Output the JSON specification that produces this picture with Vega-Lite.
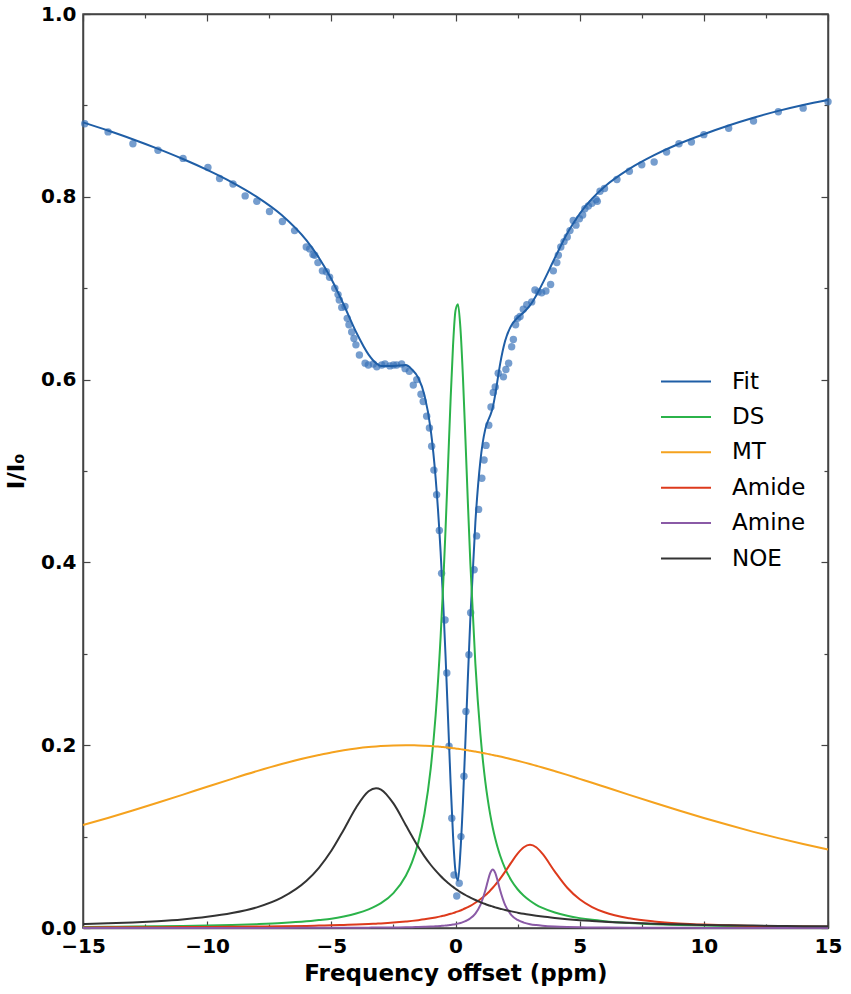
{
  "$schema": "https://vega.github.io/schema/vega-lite/v6.json",
  "width": 745,
  "height": 914,
  "autosize": "none",
  "padding": {"left": 83, "top": 14, "right": 23, "bottom": 66},
  "background": "white",
  "config": {
    "font": "DejaVu Sans",
    "view": {"stroke": "#444444", "strokeWidth": 1.5},
    "axis": {
      "grid": false,
      "labelFont": "DejaVu Sans",
      "labelFontWeight": "bold",
      "labelFontSize": 20,
      "labelColor": "black",
      "labelFlush": false,
      "labelOverlap": false,
      "titleFont": "DejaVu Sans",
      "titleFontWeight": "bold",
      "titleFontSize": 23,
      "titleColor": "black",
      "domainColor": "#444444",
      "domainWidth": 1.5,
      "tickColor": "#444444",
      "tickWidth": 1.2
    }
  },
  "datasets": {
    "curves": [
      {"offset": -15, "Fit": 0.8814, "DS": 0.0012, "MT": 0.1126, "Amide": 0.0006, "Amine": 0.0000, "NOE": 0.0043},
      {"offset": -14, "Fit": 0.8725, "DS": 0.0014, "MT": 0.1203, "Amide": 0.0007, "Amine": 0.0000, "NOE": 0.0051},
      {"offset": -13, "Fit": 0.8630, "DS": 0.0016, "MT": 0.1285, "Amide": 0.0007, "Amine": 0.0000, "NOE": 0.0061},
      {"offset": -12, "Fit": 0.8527, "DS": 0.0019, "MT": 0.1370, "Amide": 0.0008, "Amine": 0.0001, "NOE": 0.0075},
      {"offset": -11, "Fit": 0.8416, "DS": 0.0022, "MT": 0.1457, "Amide": 0.0010, "Amine": 0.0001, "NOE": 0.0094},
      {"offset": -10, "Fit": 0.8294, "DS": 0.0027, "MT": 0.1545, "Amide": 0.0011, "Amine": 0.0001, "NOE": 0.0122},
      {"offset": -9, "Fit": 0.8158, "DS": 0.0033, "MT": 0.1632, "Amide": 0.0013, "Amine": 0.0001, "NOE": 0.0163},
      {"offset": -8, "Fit": 0.7999, "DS": 0.0042, "MT": 0.1716, "Amide": 0.0016, "Amine": 0.0001, "NOE": 0.0226},
      {"offset": -7, "Fit": 0.7800, "DS": 0.0054, "MT": 0.1794, "Amide": 0.0019, "Amine": 0.0001, "NOE": 0.0332},
      {"offset": -6, "Fit": 0.7522, "DS": 0.0073, "MT": 0.1863, "Amide": 0.0023, "Amine": 0.0002, "NOE": 0.0517},
      {"offset": -5.5, "Fit": 0.7333, "DS": 0.0087, "MT": 0.1893, "Amide": 0.0026, "Amine": 0.0002, "NOE": 0.0659},
      {"offset": -5, "Fit": 0.7100, "DS": 0.0102, "MT": 0.1921, "Amide": 0.0029, "Amine": 0.0002, "NOE": 0.0845},
      {"offset": -4.5, "Fit": 0.6819, "DS": 0.0126, "MT": 0.1944, "Amide": 0.0033, "Amine": 0.0003, "NOE": 0.1076},
      {"offset": -4, "Fit": 0.6519, "DS": 0.0158, "MT": 0.1964, "Amide": 0.0037, "Amine": 0.0003, "NOE": 0.1319},
      {"offset": -3.5, "Fit": 0.6274, "DS": 0.0203, "MT": 0.1980, "Amide": 0.0043, "Amine": 0.0004, "NOE": 0.1496},
      {"offset": -3.2, "Fit": 0.6180, "DS": 0.0241, "MT": 0.1987, "Amide": 0.0047, "Amine": 0.0005, "NOE": 0.1530},
      {"offset": -3, "Fit": 0.6150, "DS": 0.0272, "MT": 0.1991, "Amide": 0.0050, "Amine": 0.0005, "NOE": 0.1515},
      {"offset": -2.5, "Fit": 0.6150, "DS": 0.0382, "MT": 0.1998, "Amide": 0.0059, "Amine": 0.0006, "NOE": 0.1363},
      {"offset": -2, "Fit": 0.6160, "DS": 0.0572, "MT": 0.2000, "Amide": 0.0071, "Amine": 0.0008, "NOE": 0.1125},
      {"offset": -1.75, "Fit": 0.6110, "DS": 0.0720, "MT": 0.1999, "Amide": 0.0078, "Amine": 0.0009, "NOE": 0.1004},
      {"offset": -1.5, "Fit": 0.6020, "DS": 0.0936, "MT": 0.1998, "Amide": 0.0086, "Amine": 0.0011, "NOE": 0.0888},
      {"offset": -1.25, "Fit": 0.5830, "DS": 0.1253, "MT": 0.1995, "Amide": 0.0095, "Amine": 0.0013, "NOE": 0.0784},
      {"offset": -1, "Fit": 0.5455, "DS": 0.1740, "MT": 0.1991, "Amide": 0.0106, "Amine": 0.0016, "NOE": 0.0692},
      {"offset": -0.8, "Fit": 0.4923, "DS": 0.2328, "MT": 0.1987, "Amide": 0.0116, "Amine": 0.0019, "NOE": 0.0627},
      {"offset": -0.6, "Fit": 0.4117, "DS": 0.3183, "MT": 0.1982, "Amide": 0.0127, "Amine": 0.0022, "NOE": 0.0569},
      {"offset": -0.5, "Fit": 0.3586, "DS": 0.3734, "MT": 0.1980, "Amide": 0.0133, "Amine": 0.0025, "NOE": 0.0542},
      {"offset": -0.4, "Fit": 0.2970, "DS": 0.4369, "MT": 0.1977, "Amide": 0.0140, "Amine": 0.0027, "NOE": 0.0517},
      {"offset": -0.3, "Fit": 0.2291, "DS": 0.5065, "MT": 0.1974, "Amide": 0.0147, "Amine": 0.0030, "NOE": 0.0493},
      {"offset": -0.2, "Fit": 0.1606, "DS": 0.5764, "MT": 0.1971, "Amide": 0.0155, "Amine": 0.0034, "NOE": 0.0471},
      {"offset": -0.1, "Fit": 0.1013, "DS": 0.6369, "MT": 0.1967, "Amide": 0.0163, "Amine": 0.0038, "NOE": 0.0450},
      {"offset": 0, "Fit": 0.0620, "DS": 0.6755, "MT": 0.1964, "Amide": 0.0172, "Amine": 0.0042, "NOE": 0.0430},
      {"offset": 0.1, "Fit": 0.0520, "DS": 0.6824, "MT": 0.1960, "Amide": 0.0182, "Amine": 0.0048, "NOE": 0.0411},
      {"offset": 0.2, "Fit": 0.0846, "DS": 0.6556, "MT": 0.1957, "Amide": 0.0192, "Amine": 0.0055, "NOE": 0.0393},
      {"offset": 0.3, "Fit": 0.1379, "DS": 0.6024, "MT": 0.1953, "Amide": 0.0204, "Amine": 0.0064, "NOE": 0.0377},
      {"offset": 0.4, "Fit": 0.2051, "DS": 0.5349, "MT": 0.1948, "Amide": 0.0216, "Amine": 0.0075, "NOE": 0.0361},
      {"offset": 0.5, "Fit": 0.2750, "DS": 0.4643, "MT": 0.1944, "Amide": 0.0229, "Amine": 0.0088, "NOE": 0.0346},
      {"offset": 0.6, "Fit": 0.3401, "DS": 0.3979, "MT": 0.1940, "Amide": 0.0243, "Amine": 0.0106, "NOE": 0.0332},
      {"offset": 0.8, "Fit": 0.4437, "DS": 0.2893, "MT": 0.1930, "Amide": 0.0276, "Amine": 0.0158, "NOE": 0.0306},
      {"offset": 1.0, "Fit": 0.5105, "DS": 0.2128, "MT": 0.1921, "Amide": 0.0314, "Amine": 0.0250, "NOE": 0.0283},
      {"offset": 1.2, "Fit": 0.5458, "DS": 0.1602, "MT": 0.1910, "Amide": 0.0358, "Amine": 0.0410, "NOE": 0.0262},
      {"offset": 1.3, "Fit": 0.5544, "DS": 0.1404, "MT": 0.1905, "Amide": 0.0383, "Amine": 0.0512, "NOE": 0.0252},
      {"offset": 1.4, "Fit": 0.5608, "DS": 0.1237, "MT": 0.1899, "Amide": 0.0410, "Amine": 0.0602, "NOE": 0.0243},
      {"offset": 1.5, "Fit": 0.5695, "DS": 0.1097, "MT": 0.1893, "Amide": 0.0440, "Amine": 0.0640, "NOE": 0.0235},
      {"offset": 1.6, "Fit": 0.5835, "DS": 0.0978, "MT": 0.1888, "Amide": 0.0471, "Amine": 0.0602, "NOE": 0.0226},
      {"offset": 1.7, "Fit": 0.6007, "DS": 0.0877, "MT": 0.1882, "Amide": 0.0504, "Amine": 0.0512, "NOE": 0.0218},
      {"offset": 1.8, "Fit": 0.6174, "DS": 0.0790, "MT": 0.1876, "Amide": 0.0540, "Amine": 0.0410, "NOE": 0.0211},
      {"offset": 2.0, "Fit": 0.6424, "DS": 0.0649, "MT": 0.1863, "Amide": 0.0617, "Amine": 0.0250, "NOE": 0.0197},
      {"offset": 2.25, "Fit": 0.6593, "DS": 0.0520, "MT": 0.1847, "Amide": 0.0718, "Amine": 0.0142, "NOE": 0.0182},
      {"offset": 2.5, "Fit": 0.6677, "DS": 0.0424, "MT": 0.1830, "Amide": 0.0813, "Amine": 0.0088, "NOE": 0.0168},
      {"offset": 2.75, "Fit": 0.6737, "DS": 0.0353, "MT": 0.1812, "Amide": 0.0884, "Amine": 0.0059, "NOE": 0.0155},
      {"offset": 3.0, "Fit": 0.6812, "DS": 0.0298, "MT": 0.1794, "Amide": 0.0910, "Amine": 0.0042, "NOE": 0.0144},
      {"offset": 3.25, "Fit": 0.6921, "DS": 0.0254, "MT": 0.1775, "Amide": 0.0884, "Amine": 0.0032, "NOE": 0.0134},
      {"offset": 3.5, "Fit": 0.7050, "DS": 0.0220, "MT": 0.1756, "Amide": 0.0813, "Amine": 0.0025, "NOE": 0.0125},
      {"offset": 4, "Fit": 0.7330, "DS": 0.0169, "MT": 0.1716, "Amide": 0.0617, "Amine": 0.0016, "NOE": 0.0110},
      {"offset": 4.5, "Fit": 0.7600, "DS": 0.0134, "MT": 0.1675, "Amide": 0.0440, "Amine": 0.0011, "NOE": 0.0097},
      {"offset": 5, "Fit": 0.7815, "DS": 0.0108, "MT": 0.1632, "Amide": 0.0314, "Amine": 0.0008, "NOE": 0.0086},
      {"offset": 5.5, "Fit": 0.7980, "DS": 0.0089, "MT": 0.1589, "Amide": 0.0229, "Amine": 0.0006, "NOE": 0.0077},
      {"offset": 6, "Fit": 0.8110, "DS": 0.0075, "MT": 0.1545, "Amide": 0.0172, "Amine": 0.0005, "NOE": 0.0069},
      {"offset": 7, "Fit": 0.8305, "DS": 0.0055, "MT": 0.1457, "Amide": 0.0106, "Amine": 0.0003, "NOE": 0.0057},
      {"offset": 8, "Fit": 0.8455, "DS": 0.0042, "MT": 0.1370, "Amide": 0.0071, "Amine": 0.0002, "NOE": 0.0047},
      {"offset": 9, "Fit": 0.8580, "DS": 0.0033, "MT": 0.1285, "Amide": 0.0050, "Amine": 0.0002, "NOE": 0.0040},
      {"offset": 10, "Fit": 0.8685, "DS": 0.0027, "MT": 0.1203, "Amide": 0.0037, "Amine": 0.0001, "NOE": 0.0034},
      {"offset": 11, "Fit": 0.8780, "DS": 0.0022, "MT": 0.1126, "Amide": 0.0029, "Amine": 0.0001, "NOE": 0.0030},
      {"offset": 12, "Fit": 0.8865, "DS": 0.0019, "MT": 0.1052, "Amide": 0.0023, "Amine": 0.0001, "NOE": 0.0026},
      {"offset": 13, "Fit": 0.8940, "DS": 0.0016, "MT": 0.0983, "Amide": 0.0019, "Amine": 0.0001, "NOE": 0.0023},
      {"offset": 14, "Fit": 0.9005, "DS": 0.0014, "MT": 0.0919, "Amide": 0.0016, "Amine": 0.0001, "NOE": 0.0020},
      {"offset": 15, "Fit": 0.9060, "DS": 0.0012, "MT": 0.0859, "Amide": 0.0013, "Amine": 0.0001, "NOE": 0.0018}
    ],
    "points": [
      {"offset": -14.93, "ratio": 0.880}, {"offset": -13.99, "ratio": 0.871}, {"offset": -12.99, "ratio": 0.858},
      {"offset": -11.98, "ratio": 0.851}, {"offset": -10.97, "ratio": 0.842}, {"offset": -9.97, "ratio": 0.832},
      {"offset": -9.5, "ratio": 0.820}, {"offset": -8.96, "ratio": 0.814}, {"offset": -8.47, "ratio": 0.801},
      {"offset": -8.0, "ratio": 0.795}, {"offset": -7.49, "ratio": 0.784}, {"offset": -6.97, "ratio": 0.773},
      {"offset": -6.48, "ratio": 0.763}, {"offset": -6.01, "ratio": 0.745}, {"offset": -5.87, "ratio": 0.743},
      {"offset": -5.74, "ratio": 0.737}, {"offset": -5.67, "ratio": 0.736}, {"offset": -5.54, "ratio": 0.728},
      {"offset": -5.36, "ratio": 0.719}, {"offset": -5.2, "ratio": 0.718}, {"offset": -5.07, "ratio": 0.712},
      {"offset": -4.86, "ratio": 0.700}, {"offset": -4.73, "ratio": 0.693}, {"offset": -4.68, "ratio": 0.687},
      {"offset": -4.58, "ratio": 0.679}, {"offset": -4.45, "ratio": 0.680}, {"offset": -4.36, "ratio": 0.667},
      {"offset": -4.29, "ratio": 0.660}, {"offset": -4.18, "ratio": 0.652}, {"offset": -4.09, "ratio": 0.645},
      {"offset": -4.01, "ratio": 0.638}, {"offset": -3.87, "ratio": 0.627}, {"offset": -3.64, "ratio": 0.618},
      {"offset": -3.51, "ratio": 0.616}, {"offset": -3.31, "ratio": 0.617}, {"offset": -3.17, "ratio": 0.614},
      {"offset": -2.97, "ratio": 0.616}, {"offset": -2.84, "ratio": 0.617}, {"offset": -2.64, "ratio": 0.615},
      {"offset": -2.5, "ratio": 0.616}, {"offset": -2.37, "ratio": 0.616}, {"offset": -2.17, "ratio": 0.617},
      {"offset": -2.03, "ratio": 0.612}, {"offset": -1.86, "ratio": 0.609}, {"offset": -1.7, "ratio": 0.594},
      {"offset": -1.56, "ratio": 0.600}, {"offset": -1.39, "ratio": 0.584}, {"offset": -1.3, "ratio": 0.576},
      {"offset": -1.16, "ratio": 0.560}, {"offset": -1.05, "ratio": 0.547}, {"offset": -0.96, "ratio": 0.527},
      {"offset": -0.87, "ratio": 0.501}, {"offset": -0.76, "ratio": 0.474}, {"offset": -0.65, "ratio": 0.435},
      {"offset": -0.56, "ratio": 0.388}, {"offset": -0.42, "ratio": 0.337}, {"offset": -0.35, "ratio": 0.279},
      {"offset": -0.26, "ratio": 0.199}, {"offset": -0.15, "ratio": 0.120}, {"offset": -0.06, "ratio": 0.058},
      {"offset": 0.05, "ratio": 0.035}, {"offset": 0.15, "ratio": 0.049}, {"offset": 0.22, "ratio": 0.100},
      {"offset": 0.34, "ratio": 0.166}, {"offset": 0.42, "ratio": 0.237}, {"offset": 0.54, "ratio": 0.299},
      {"offset": 0.61, "ratio": 0.345}, {"offset": 0.75, "ratio": 0.392}, {"offset": 0.85, "ratio": 0.429},
      {"offset": 0.93, "ratio": 0.458}, {"offset": 1.06, "ratio": 0.492}, {"offset": 1.15, "ratio": 0.512},
      {"offset": 1.23, "ratio": 0.528}, {"offset": 1.34, "ratio": 0.550}, {"offset": 1.43, "ratio": 0.570},
      {"offset": 1.52, "ratio": 0.586}, {"offset": 1.6, "ratio": 0.592}, {"offset": 1.72, "ratio": 0.607},
      {"offset": 1.93, "ratio": 0.603}, {"offset": 2.03, "ratio": 0.611}, {"offset": 2.14, "ratio": 0.618},
      {"offset": 2.26, "ratio": 0.636}, {"offset": 2.33, "ratio": 0.644}, {"offset": 2.42, "ratio": 0.660},
      {"offset": 2.5, "ratio": 0.667}, {"offset": 2.6, "ratio": 0.669}, {"offset": 2.73, "ratio": 0.677},
      {"offset": 2.87, "ratio": 0.682}, {"offset": 3.07, "ratio": 0.685}, {"offset": 3.2, "ratio": 0.698},
      {"offset": 3.33, "ratio": 0.696}, {"offset": 3.47, "ratio": 0.695}, {"offset": 3.64, "ratio": 0.697},
      {"offset": 3.83, "ratio": 0.704}, {"offset": 3.94, "ratio": 0.719}, {"offset": 4.08, "ratio": 0.728},
      {"offset": 4.14, "ratio": 0.736}, {"offset": 4.24, "ratio": 0.745}, {"offset": 4.37, "ratio": 0.751},
      {"offset": 4.5, "ratio": 0.756}, {"offset": 4.61, "ratio": 0.763}, {"offset": 4.74, "ratio": 0.774},
      {"offset": 4.85, "ratio": 0.769}, {"offset": 4.99, "ratio": 0.776}, {"offset": 5.12, "ratio": 0.780},
      {"offset": 5.21, "ratio": 0.787}, {"offset": 5.35, "ratio": 0.790}, {"offset": 5.49, "ratio": 0.793},
      {"offset": 5.66, "ratio": 0.797}, {"offset": 5.71, "ratio": 0.795}, {"offset": 5.82, "ratio": 0.806},
      {"offset": 6.0, "ratio": 0.809}, {"offset": 6.5, "ratio": 0.819}, {"offset": 7.0, "ratio": 0.828},
      {"offset": 7.5, "ratio": 0.835}, {"offset": 8.0, "ratio": 0.838}, {"offset": 8.5, "ratio": 0.849},
      {"offset": 9.0, "ratio": 0.858}, {"offset": 9.5, "ratio": 0.860}, {"offset": 10.0, "ratio": 0.868},
      {"offset": 11.0, "ratio": 0.875}, {"offset": 12.0, "ratio": 0.883}, {"offset": 13.0, "ratio": 0.893},
      {"offset": 14.0, "ratio": 0.897}, {"offset": 15.0, "ratio": 0.904}
    ]
  },
  "layer": [
    {
      "data": {"name": "points"},
      "mark": {"type": "point", "filled": true, "size": 55, "color": "#3a74b9", "opacity": 0.7},
      "encoding": {
        "x": {
          "field": "offset",
          "type": "quantitative",
          "scale": {"domain": [-15, 15], "nice": false, "zero": false},
          "axis": {
            "orient": "bottom",
            "title": "Frequency offset (ppm)",
            "values": [-15, -12.5, -10, -7.5, -5, -2.5, 0, 2.5, 5, 7.5, 10, 12.5, 15],
            "labelExpr": "datum.value % 5 === 0 ? format(datum.value, 'd') : ''",
            "tickSize": {"condition": {"test": "datum.value % 5 !== 0", "value": -4}, "value": -7},
            "labelPadding": 15,
            "titlePadding": 3
          }
        },
        "y": {
          "field": "ratio",
          "type": "quantitative",
          "scale": {"domain": [0, 1], "nice": false},
          "axis": {
            "orient": "left",
            "title": "I/I₀",
            "values": [0, 0.1, 0.2, 0.3, 0.4, 0.5, 0.6, 0.7, 0.8, 0.9, 1.0],
            "labelExpr": "round(datum.value * 10) % 2 === 0 ? format(datum.value, '.1f') : ''",
            "tickSize": {"condition": {"test": "round(datum.value * 10) % 2 === 1", "value": -4}, "value": -7},
            "labelPadding": 14,
            "titlePadding": 12
          }
        }
      }
    },
    {
      "data": {"name": "curves"},
      "transform": [
        {"fold": ["Fit", "DS", "MT", "Amide", "Amine", "NOE"], "as": ["series", "value"]}
      ],
      "mark": {"type": "line", "strokeWidth": 2, "interpolate": "monotone"},
      "encoding": {
        "x": {
          "field": "offset",
          "type": "quantitative",
          "axis": {
            "orient": "top",
            "title": null,
            "labels": false,
            "values": [-15, -12.5, -10, -7.5, -5, -2.5, 0, 2.5, 5, 7.5, 10, 12.5, 15],
            "tickSize": {"condition": {"test": "datum.value % 5 !== 0", "value": -4}, "value": -7}
          }
        },
        "y": {
          "field": "value",
          "type": "quantitative",
          "axis": {
            "orient": "right",
            "title": null,
            "labels": false,
            "values": [0, 0.1, 0.2, 0.3, 0.4, 0.5, 0.6, 0.7, 0.8, 0.9, 1.0],
            "tickSize": {"condition": {"test": "round(datum.value * 10) % 2 === 1", "value": -4}, "value": -7}
          }
        },
        "color": {
          "field": "series",
          "type": "nominal",
          "scale": {
            "domain": ["Fit", "DS", "MT", "Amide", "Amine", "NOE"],
            "range": ["#1f5ea6", "#2bb34a", "#f5a21e", "#dd3a1c", "#8a5aa6", "#333333"]
          },
          "legend": {
            "orient": "none",
            "legendX": 589.5,
            "legendY": 354,
            "title": null,
            "padding": 0,
            "symbolType": "M-2,0H2",
            "symbolSize": 625,
            "symbolStrokeWidth": 2,
            "labelFont": "DejaVu Sans",
            "labelFontSize": 23,
            "labelColor": "black",
            "labelOffset": 32.5,
            "rowPadding": 9.4
          }
        },
        "order": {"field": "offset", "type": "quantitative"}
      }
    }
  ],
  "resolve": {"axis": {"x": "independent", "y": "independent"}}
}
